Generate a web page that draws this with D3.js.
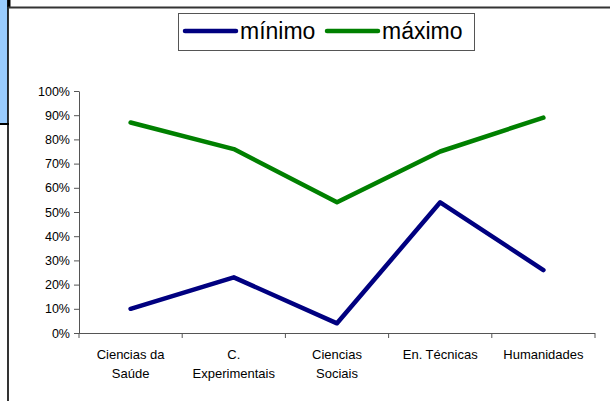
<!DOCTYPE html>
<html><head><meta charset="utf-8">
<script src="https://cdn.jsdelivr.net/npm/d3@7"></script>
<style>body{margin:0;background:#fff}svg{display:block}</style>
</head><body>
<script>
const categories = [["Ciencias da","Saúde"],["C.","Experimentais"],["Ciencias","Sociais"],["En. Técnicas"],["Humanidades"]];
const minimo = [10, 23, 4, 54, 26];
const maximo = [87, 76, 54, 75, 89];
const seriesNames = ["mínimo", "máximo"];
const seriesColors = ["#000080", "#008000"];
const yTicks = [0,10,20,30,40,50,60,70,80,90,100];

const W = 610, H = 401;
const svg = d3.select("body").append("svg").attr("width", W).attr("height", H);
const font = "Liberation Sans, Arial, sans-serif";

// frame decorations
svg.append("rect").attr("x",0).attr("y",0).attr("width",8).attr("height",123).attr("fill","#99CCFF");
svg.append("line").attr("x1",0).attr("x2",9).attr("y1",124).attr("y2",124).attr("stroke","#000").attr("stroke-width",2);
svg.append("line").attr("x1",9).attr("x2",9).attr("y1",0).attr("y2",7).attr("stroke","#000").attr("stroke-width",3);
svg.append("line").attr("x1",8).attr("x2",8).attr("y1",0).attr("y2",H).attr("stroke","#000").attr("stroke-width",1.6);
svg.append("line").attr("x1",8).attr("x2",W).attr("y1",7.5).attr("y2",7.5).attr("stroke","#333").attr("stroke-width",2);

const x0 = 79, x1 = 595, yTop = 91, yBot = 333;
const xBand = d3.scaleBand().domain(d3.range(categories.length)).range([x0, x1]).padding(0);
const y = d3.scaleLinear().domain([0, 100]).range([yBot, yTop]);
const xc = i => xBand(i) + xBand.bandwidth()/2;

// y axis
const yAxis = d3.axisLeft(y).tickValues(yTicks).tickFormat(d => d + "%").tickSize(5).tickSizeOuter(0);
const gy = svg.append("g").attr("transform", `translate(${x0},0)`).call(yAxis);
gy.select(".domain").attr("stroke","#555");
gy.selectAll(".tick line").attr("stroke","#555");
gy.selectAll("text").attr("font-family", font).attr("font-size", 12.5).attr("fill","#000").attr("x",-9);

// x axis
svg.append("line").attr("x1",x0).attr("x2",x1).attr("y1",yBot+0.5).attr("y2",yBot+0.5).attr("stroke","#555");
d3.range(categories.length+1).forEach(i => {
  const xx = i < categories.length ? xBand(i) : x1;
  svg.append("line").attr("x1",xx).attr("x2",xx).attr("y1",yBot).attr("y2",yBot+5).attr("stroke","#555");
});
categories.forEach((lines, i) => {
  const t = svg.append("text").attr("text-anchor","middle").attr("font-family",font).attr("font-size",13).attr("fill","#000");
  lines.forEach((ln, k) => t.append("tspan").attr("x", xc(i)).attr("y", 359 + k*19).text(ln));
});

// lines
const line = d3.line().x((d,i) => xc(i)).y(d => y(d));
[minimo, maximo].forEach((s, k) => {
  svg.append("path").datum(s).attr("d", line).attr("fill","none").attr("stroke", seriesColors[k])
    .attr("stroke-width",4.5).attr("stroke-linejoin","round").attr("stroke-linecap","round");
});

// legend
const lg = svg.append("g");
lg.append("rect").attr("x",178.5).attr("y",13.5).attr("width",296).attr("height",37).attr("fill","#fff").attr("stroke","#555");
const legX = [185, 327];
seriesNames.forEach((n, k) => {
  lg.append("line").attr("x1",legX[k]).attr("x2",legX[k]+51).attr("y1",31).attr("y2",31)
    .attr("stroke",seriesColors[k]).attr("stroke-width",4.5).attr("stroke-linecap","round");
  lg.append("text").attr("x",legX[k]+55).attr("y",39).attr("font-family",font).attr("font-size",23).attr("fill","#000").text(n);
});
</script>
</body></html>
